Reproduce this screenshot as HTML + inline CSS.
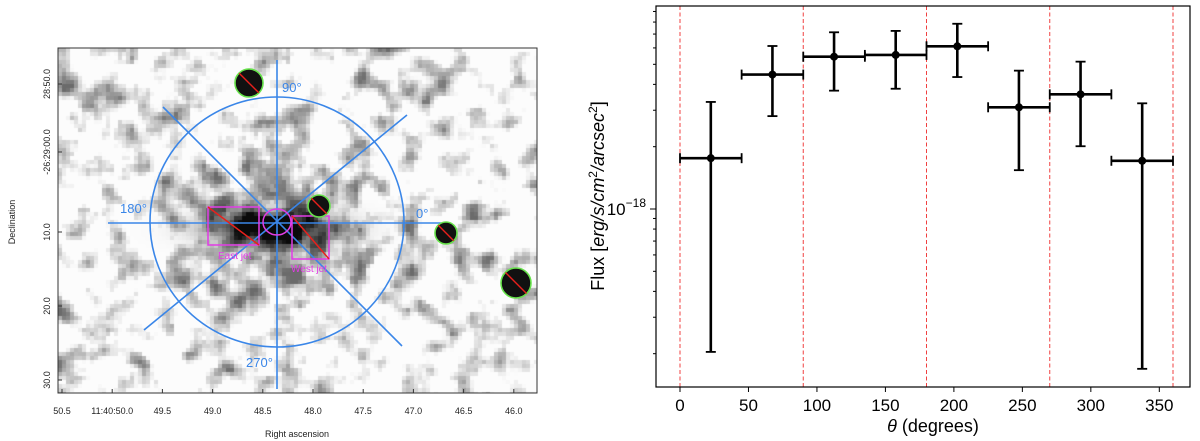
<!DOCTYPE html>
<html><head><meta charset="utf-8"><style>
html,body{margin:0;padding:0;background:#fff;width:1200px;height:441px;overflow:hidden;font-family:"Liberation Sans",sans-serif}
#wrap{position:relative;width:1200px;height:441px}
canvas{position:absolute;left:58px;top:48px}
svg{position:absolute;left:0;top:0}
</style></head><body>
<div id="wrap">
<canvas id="img" width="479" height="345"></canvas>
<svg id="left" width="580" height="441">
  <rect x="58" y="48" width="479" height="345" fill="none" stroke="#333" stroke-width="1"/>
  <g stroke="#3a86e8" stroke-width="1.6" fill="none">
    <ellipse cx="277" cy="222" rx="127" ry="125"/>
    <line x1="108" y1="223" x2="441" y2="223"/>
    <line x1="277" y1="60" x2="277" y2="389"/>
    <line x1="163" y1="107" x2="402" y2="346"/>
    <line x1="407" y1="115" x2="144" y2="330"/>
  </g>
  <g fill="#3a86e8" font-size="13">
    <text x="282" y="92">90°</text>
    <text x="120" y="213">180°</text>
    <text x="416" y="218">0°</text>
    <text x="246" y="367">270°</text>
  </g>
  <g stroke="#e23ce6" stroke-width="1.5" fill="none">
    <rect x="208" y="207" width="51" height="38"/>
    <rect x="292" y="216" width="37" height="43"/>
    <ellipse cx="277" cy="222" rx="14" ry="13"/>
  </g>
  <g stroke="#e8201c" stroke-width="1.5">
    <line x1="208" y1="207" x2="259" y2="245"/>
    <line x1="292" y1="216" x2="329" y2="259"/>
  </g>
  <g fill="#e23ce6" font-size="10">
    <text x="218" y="259">East jet</text>
    <text x="291" y="272">West jet</text>
  </g>
  <g id="srcs"></g>
  <g font-size="9" fill="#222" id="lticks"></g>
  <text x="297" y="437" font-size="9" text-anchor="middle" fill="#222">Right ascension</text>
  <text transform="translate(15,222) rotate(-90)" font-size="9" text-anchor="middle" fill="#222">Declination</text>
</svg>
<svg id="chart" width="1200" height="441" style="left:0;top:0"></svg>
</div>
<script>
// Flux vs angle data
const thetaCenters = [22.5, 67.5, 112.5, 157.5, 202.5, 247.5, 292.5, 337.5];
const thetaHalfWidth = [22.5, 22.5, 22.5, 22.5, 22.5, 22.5, 22.5, 22.5];
const fluxValues = [1.76e-18, 4.46e-18, 5.44e-18, 5.55e-18, 6.11e-18, 3.10e-18, 3.58e-18, 1.71e-18];
const fluxUpper = [3.29e-18, 6.13e-18, 7.14e-18, 7.25e-18, 7.85e-18, 4.66e-18, 5.15e-18, 3.24e-18];
const fluxLower = [2.04e-19, 2.81e-18, 3.73e-18, 3.81e-18, 4.34e-18, 1.54e-18, 2.01e-18, 1.69e-19];
const xTickValues = [0, 50, 100, 150, 200, 250, 300, 350];
const sectorLines = [0, 90, 180, 270, 360];

const NS='http://www.w3.org/2000/svg';
function mk(parent,tag,attrs){const e=document.createElementNS(NS,tag);for(const k in attrs)e.setAttribute(k,attrs[k]);parent.appendChild(e);return e;}

// background noise image (decorative)
(function(){
  const c=document.getElementById('img'),g=c.getContext('2d');
  const W=479,H=345,cs=4,nx=Math.ceil(W/cs),ny=Math.ceil(H/cs);
  let s=98765;const rnd=()=>{s=(s*1103515245+12345)%2147483648;return s/2147483648;};
  const raw=[];for(let j=0;j<ny;j++){raw.push([]);for(let i=0;i<nx;i++)raw[j].push(rnd());}
  for(let j=0;j<ny;j++)for(let i=0;i<nx;i++){
    let t=0,n=0;for(let dj=-2;dj<=2;dj++)for(let di=-2;di<=2;di++){const a=raw[j+dj],b=a&&a[i+di];if(b!==undefined){const w=(Math.abs(di)<2&&Math.abs(dj)<2)?2:1;t+=b*w;n+=w;}}
    let v=t/n;
    const px=i*cs+58,py=j*cs+48;
    const dx=(px-270)/62,dy=(py-226)/17;let core=Math.exp(-(dx*dx+dy*dy)*1.2);
    const dx2=(px-272)/100,dy2=(py-230)/70;let halo=Math.exp(-(dx2*dx2+dy2*dy2));
    let dark=Math.max(0,(v-0.5+halo*0.1)*3.4);
    dark=Math.min(0.6,dark)+core*1.2;
    dark=Math.min(1,dark);
    const lv=Math.round(252-dark*242);
    g.fillStyle=`rgb(${lv},${lv},${lv})`;g.fillRect(i*cs,j*cs,cs,cs);
  }
})();

(function(){
  const sr=document.getElementById('srcs');
  [[249,83,14],[319,206,11],[446,233,11],[516,283,15]].forEach((p,k)=>{
    const e=mk(sr,'ellipse',{cx:p[0],cy:p[1],rx:p[2],ry:p[2],fill:'#111',stroke:'#66e24a','stroke-width':1.6});
    
    
    const d=p[2]*0.7;mk(sr,'line',{x1:p[0]-d,y1:p[1]-d,x2:p[0]+d,y2:p[1]+d,stroke:'#e8201c','stroke-width':1.4});
  });
  const lt=document.getElementById('lticks');
  const xl=['50.5','11:40:50.0','49.5','49.0','48.5','48.0','47.5','47.0','46.5','46.0'];
  xl.forEach((t,i)=>{const x=62+i*50.2;const e=mk(lt,'text',{x:x,y:414,'text-anchor':'middle'});e.textContent=t;
    
    mk(lt,'line',{x1:x,y1:393,x2:x,y2:389,stroke:'#333'});});
  [['28:50.0',84],['-26:29:00.0',152],['10.0',232],['20.0',306],['30.0',380]].forEach(a=>{
    const e=mk(lt,'text',{transform:`translate(50,${a[1]}) rotate(-90)`,'text-anchor':'middle'});e.textContent=a[0];
    
    mk(lt,'line',{x1:58,y1:a[1],x2:62,y2:a[1],stroke:'#333'});});
})();

// chart
(function(){
  const svg=document.getElementById('chart');
  const L=656,R=1190,T=6,B=387;
  const xs=v=>680+v*(1173-680)/360;
  const ys=v=>209-207*Math.log10(v/1e-18);
  sectorLines.forEach(v=>{const e=mk(svg,'line',{x1:xs(v),x2:xs(v),y1:T,y2:B,stroke:'#f04040','stroke-width':1,'stroke-dasharray':'4,2.5'});
    });
  const fr=mk(svg,'rect',{x:L,y:T,width:R-L,height:B-T,fill:'none',stroke:'#000','stroke-width':1.2});
  
  xTickValues.forEach(v=>{mk(svg,'line',{x1:xs(v),x2:xs(v),y1:B,y2:B+5,stroke:'#000'});
    const t=mk(svg,'text',{x:xs(v),y:B+24,'text-anchor':'middle','font-size':17});t.textContent=v;
    });
  [2,3,4,5,6,7,8,9].forEach(m=>[1e-19,1e-18].forEach(d=>{const y=ys(m*d);if(y>T&&y<B)mk(svg,'line',{x1:L-3,x2:L,y1:y,y2:y,stroke:'#000'});}));
  mk(svg,'line',{x1:L-6,x2:L,y1:ys(1e-18),y2:ys(1e-18),stroke:'#000'});
  const yt=mk(svg,'text',{x:L-10,y:ys(1e-18)+6,'text-anchor':'end','font-size':17});
  yt.innerHTML='10<tspan dy="-8" font-size="12">−18</tspan>';
  
  const xt=mk(svg,'text',{x:(L+R)/2+10,y:432,'text-anchor':'middle','font-size':18});
  xt.innerHTML='<tspan font-style="italic">θ</tspan> (degrees)';
  
  const yl=mk(svg,'text',{transform:'translate(604,196) rotate(-90)','text-anchor':'middle','font-size':18});
  yl.innerHTML='Flux [<tspan font-style="italic">erg/s/cm</tspan><tspan dy="-7" font-size="12">2</tspan><tspan dy="7" font-style="italic">/arcsec</tspan><tspan dy="-7" font-size="12">2</tspan><tspan dy="7">]</tspan>';
  
  thetaCenters.forEach((c,i)=>{
    const g=mk(svg,'g',{stroke:'#000','stroke-width':2.6});
    
    
    const x=xs(c),y=ys(fluxValues[i]),x0=xs(c-thetaHalfWidth[i]),x1=xs(c+thetaHalfWidth[i]),yu=ys(fluxUpper[i]),yd=ys(fluxLower[i]);
    mk(g,'line',{x1:x0,x2:x1,y1:y,y2:y});
    mk(g,'line',{x1:x,x2:x,y1:yu,y2:yd});
    mk(g,'line',{x1:x0,x2:x0,y1:y-5,y2:y+5,'stroke-width':1.8});
    mk(g,'line',{x1:x1,x2:x1,y1:y-5,y2:y+5,'stroke-width':1.8});
    mk(g,'line',{x1:x-5,x2:x+5,y1:yu,y2:yu,'stroke-width':1.8});
    mk(g,'line',{x1:x-5,x2:x+5,y1:yd,y2:yd,'stroke-width':1.8});
    mk(g,'circle',{cx:x,cy:y,r:4,fill:'#000',stroke:'none'});
  });
})();
</script>
</body></html>
